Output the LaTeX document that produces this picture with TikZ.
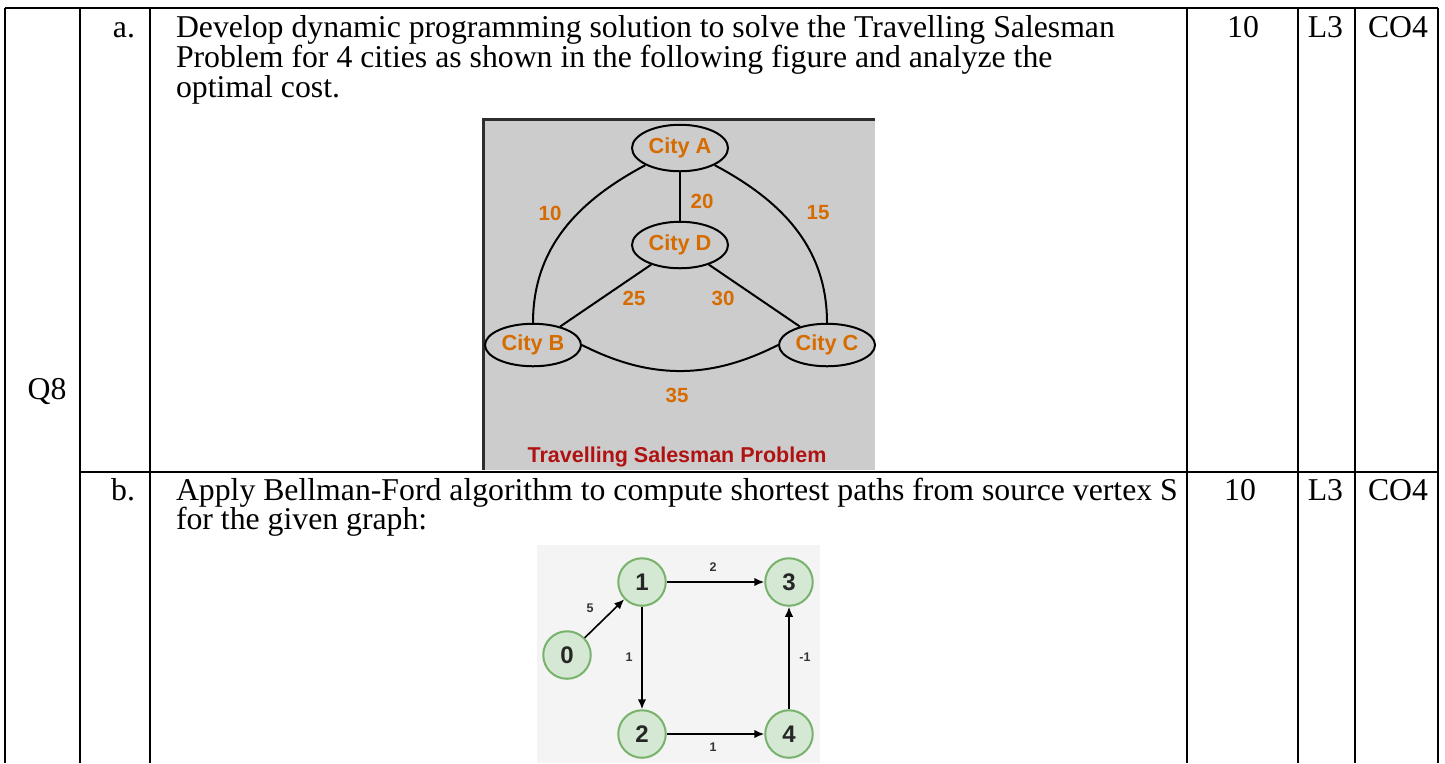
\documentclass[tikz,border=0pt]{standalone}
\usepackage{fontspec}
\setmainfont{Liberation Serif}
\setsansfont{Liberation Sans}
\usetikzlibrary{arrows.meta,positioning,shapes.geometric}
\definecolor{cityorange}{RGB}{214,108,0}
\definecolor{titlered}{RGB}{176,18,18}
\definecolor{figgray}{RGB}{204,204,204}
\definecolor{figedge}{RGB}{45,45,45}
\definecolor{bfback}{RGB}{244,244,244}
\definecolor{vertfill}{RGB}{213,232,212}
\definecolor{vertdraw}{RGB}{120,178,108}
\tikzset{>={Latex[length=4pt,width=3.4pt]}}

\begin{document}
\begin{tikzpicture}[x=0.4pt, y=0.4pt, line width=0.8pt, font=\fontsize{12.7}{15}\selectfont,
	qtext/.style={anchor=base west, inner sep=0pt},
	city/.style={draw, ellipse, minimum width=38.4pt, minimum height=18.6pt, inner sep=0pt, text=cityorange, font=\sffamily\bfseries\fontsize{8.7}{10}\selectfont},
	cost/.style={text=cityorange, inner sep=0pt, font=\sffamily\bfseries\fontsize{8.2}{10}\selectfont},
	vertex/.style={draw=vertdraw, fill=vertfill, circle, minimum size=19pt, inner sep=0pt, text=black!85, font=\sffamily\bfseries\fontsize{9.6}{11}\selectfont},
	weight/.style={inner sep=0pt, text=black!80, font=\sffamily\bfseries\fontsize{5}{6}\selectfont}]
		\useasboundingbox (0,0) rectangle (1445,-763);
		
		% table
		\draw (5,-8) -- (1438,-8);
		\draw (80,-472) -- (1438,-472);
		\draw (5,-8) -- (5,-763);
		\draw (80,-8) -- (80,-763);
		\draw (150,-8) -- (150,-763);
		\draw (1187,-8) -- (1187,-763);
		\draw (1298,-8) -- (1298,-763);
		\draw (1355,-8) -- (1355,-763);
		\draw (1438,-8) -- (1438,-763);
		
		\node[anchor=base] (qno) at (47,-399) {Q8};
		
		\node[anchor=base east,inner sep=0pt] (parta) at (136,-37) {a.};
		\node[qtext] (qa1) at (175,-37) {Develop dynamic programming solution to solve the Travelling Salesman};
		\node[qtext] (qa2) at (175,-67) {Problem for 4 cities as shown in the following figure and analyze the};
		\node[qtext] (qa3) at (175,-97) {optimal cost.};
		\node[anchor=base] (marksa) at (1243,-37) {10};
		\node[anchor=base east,inner sep=0pt] (levela) at (1344,-37) {L3};
		\node[qtext] (coa) at (1367,-37) {CO4};
		
		\node[anchor=base east,inner sep=0pt] (partb) at (136,-500) {b.};
		\node[qtext] (qb1) at (175,-500) {Apply Bellman-Ford algorithm to compute shortest paths from source vertex S};
		\node[qtext] (qb2) at (175,-529) {for the given graph:};
		\node[anchor=base] (marksb) at (1240,-500) {10};
		\node[anchor=base east,inner sep=0pt] (levelb) at (1344,-500) {L3};
		\node[qtext] (cob) at (1367,-500) {CO4};
		
		% travelling salesman figure
		\fill[figgray] (483,-119) rectangle (875,-470);
		\draw[figedge,line width=1.2pt] (875,-119) -- (483,-119) -- (483,-470);
		
		\node[city] (cityA) at (680,-148) {City A};
		\node[city] (cityD) at (680,-245) {City D};
		\node[city,minimum height=17pt] (cityB) at (533,-345) {City B};
		\node[city,minimum height=17pt] (cityC) at (827,-345) {City C};
		
		\draw (cityA) -- (cityD);
		\draw (cityD) -- (cityB);
		\draw (cityD) -- (cityC);
		\draw (cityA.south west) to[out=208,in=90] (cityB.north);
		\draw (cityA.south east) to[out=-28,in=90] (cityC.north);
		\draw (cityB.east) to[out=-27,in=207] (cityC.west);
		
		\node[cost] (costAD) at (702,-201) {20};
		\node[cost] (costAB) at (550,-213) {10};
		\node[cost] (costAC) at (818,-213) {15};
		\node[cost] (costBD) at (634,-298) {25};
		\node[cost] (costCD) at (723,-298) {30};
		\node[cost] (costBC) at (677,-395) {35};
		\node[cost,text=titlered,font=\sffamily\bfseries\fontsize{8.6}{10}\selectfont] (tsptitle) at (677,-457) {Travelling Salesman Problem};
		
		% bellman-ford figure
		\fill[bfback] (537,-545) rectangle (820,-763);
		
		\node[vertex] (v0) at (567,-655) {0};
		\node[vertex] (v1) at (642,-582) {1};
		\node[vertex] (v3) at (789,-582) {3};
		\node[vertex] (v2) at (642,-734) {2};
		\node[vertex] (v4) at (789,-734) {4};
		
		\draw[->,line width=0.65pt] (v0) -- (v1);
		\draw[->,line width=0.65pt] (v1) -- (v3);
		\draw[->,line width=0.65pt] (v1) -- (v2);
		\draw[->,line width=0.65pt] (v2) -- (v4);
		\draw[->,line width=0.65pt] (v4) -- (v3);
		
		\node[weight] (w01) at (590,-608) {5};
		\node[weight] (w13) at (713,-567) {2};
		\node[weight] (w12) at (629,-657) {1};
		\node[weight] (w43) at (805,-657) {-1};
		\node[weight] (w24) at (713,-747) {1};
	\end{tikzpicture}
\end{document}
